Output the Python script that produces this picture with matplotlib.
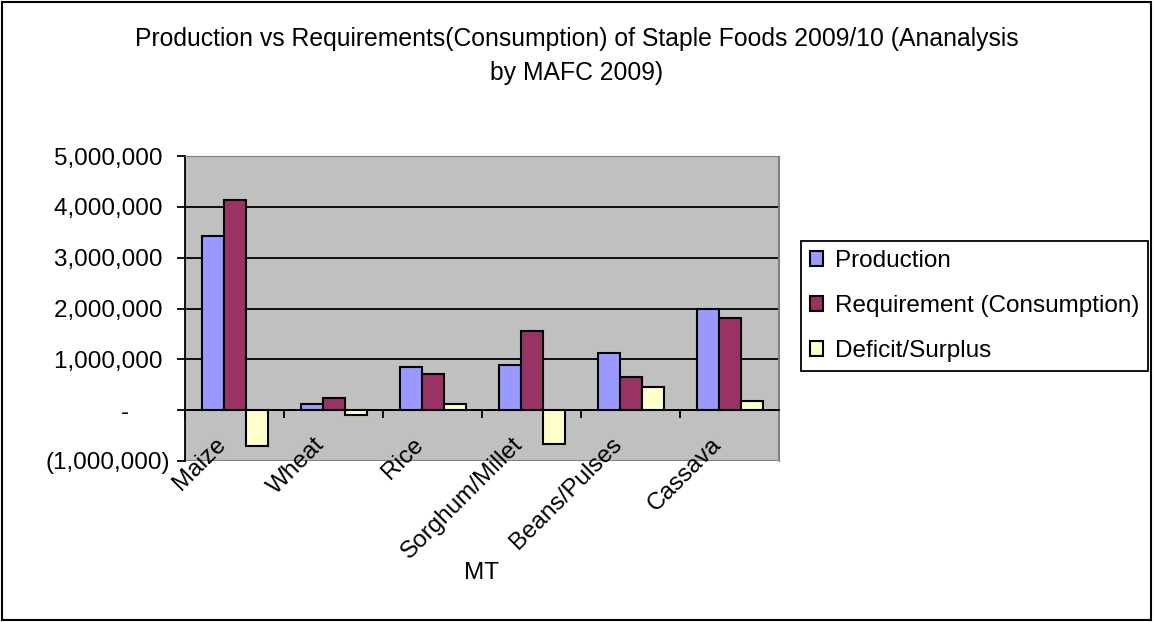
import matplotlib
matplotlib.use('Agg')
import matplotlib.pyplot as plt
import matplotlib.transforms as mtransforms
from matplotlib.patches import Rectangle
import numpy as np

plt.rcParams['font.family'] = ['Liberation Sans', 'DejaVu Sans']

categories = ['Maize', 'Wheat', 'Rice', 'Sorghum/Millet', 'Beans/Pulses', 'Cassava']
production = [3430000, 130000, 840000, 890000, 1120000, 2000000]
requirement = [4130000, 230000, 710000, 1560000, 660000, 1820000]
deficit = [-700000, -100000, 130000, -670000, 460000, 180000]
series_names = ['Production', 'Requirement (Consumption)', 'Deficit/Surplus']
y_ticks = [-1000000, 0, 1000000, 2000000, 3000000, 4000000, 5000000]

title = 'Production vs Requirements(Consumption) of Staple Foods 2009/10 (Ananalysis\nby MAFC 2009)'
fs = 17.5


def fmt(v):
    # accounting style labels like the spreadsheet
    if v > 0:
        return '{:,.0f} '.format(v)
    if v == 0:
        return '-      '
    return '({:,.0f})'.format(-v)


fig = plt.figure(figsize=(11.54, 6.22), dpi=100)
fig.patches.append(Rectangle((0.002, 0.003), 0.995, 0.993, transform=fig.transFigure,
                             fill=False, edgecolor='black', linewidth=1.5))

ax = fig.add_axes([185 / 1154, 1 - 461 / 622, 594 / 1154, 305 / 622])
ax.set_facecolor('#C0C0C0')

x = np.arange(len(categories))
w = 1 / 4.5
colors = ['#9999FF', '#993366', '#FFFFCC']
for k, vals in enumerate([production, requirement, deficit]):
    ax.bar(x + (k - 1) * w, vals, w, color=colors[k], edgecolor='black',
           linewidth=1.5, label=series_names[k], zorder=3)

ax.set_xlim(-0.5, len(categories) - 0.5)
ax.set_ylim(y_ticks[0], y_ticks[-1])
ax.set_yticks(y_ticks)
ax.set_yticklabels([fmt(v) for v in y_ticks], fontsize=fs)
ax.yaxis.grid(True, color='black', linewidth=1.3)
ax.set_axisbelow(True)

ax.spines['bottom'].set_position(('data', 0))
ax.spines['bottom'].set_color('black')
ax.spines['bottom'].set_linewidth(1.3)
ax.spines['left'].set_color('black')
ax.spines['left'].set_linewidth(1.3)
ax.spines['top'].set_color('#808080')
ax.spines['right'].set_color('#808080')
ax.add_patch(Rectangle((0, 0), 1, 1, transform=ax.transAxes, fill=False,
                       edgecolor='#808080', linewidth=1.5, zorder=1))

ax.set_xticks(np.arange(len(categories) + 1) - 0.5)
ax.set_xticklabels([])
ax.tick_params(axis='x', length=6, width=1.3, direction='out')
ax.tick_params(axis='y', length=6, width=1.3, direction='out', pad=5)

trans = mtransforms.blended_transform_factory(ax.transData, ax.transAxes)
for i, name in enumerate(categories):
    ax.text(i - 0.2, 0.09, name, transform=trans, rotation=45, ha='right', va='top',
            rotation_mode='anchor', fontsize=fs)

fig.text(482 / 1154, 1 - 573 / 622, 'MT', ha='center', va='center', fontsize=fs)
fig.text(577 / 1154, 1 - 56 / 622, title, ha='center', va='center', fontsize=17.8,
         linespacing=1.5)

fig.legend(loc='center left', bbox_to_anchor=(801 / 1154, 1 - 306 / 622),
           fontsize=fs, frameon=True, fancybox=False, edgecolor='black',
           framealpha=1, handlelength=0.55, handleheight=0.55, handletextpad=0.5,
           labelspacing=0.95, borderpad=0.35, borderaxespad=0)
fig.legends[0].get_frame().set_linewidth(1.3)

fig.savefig('out.png', dpi=100)
